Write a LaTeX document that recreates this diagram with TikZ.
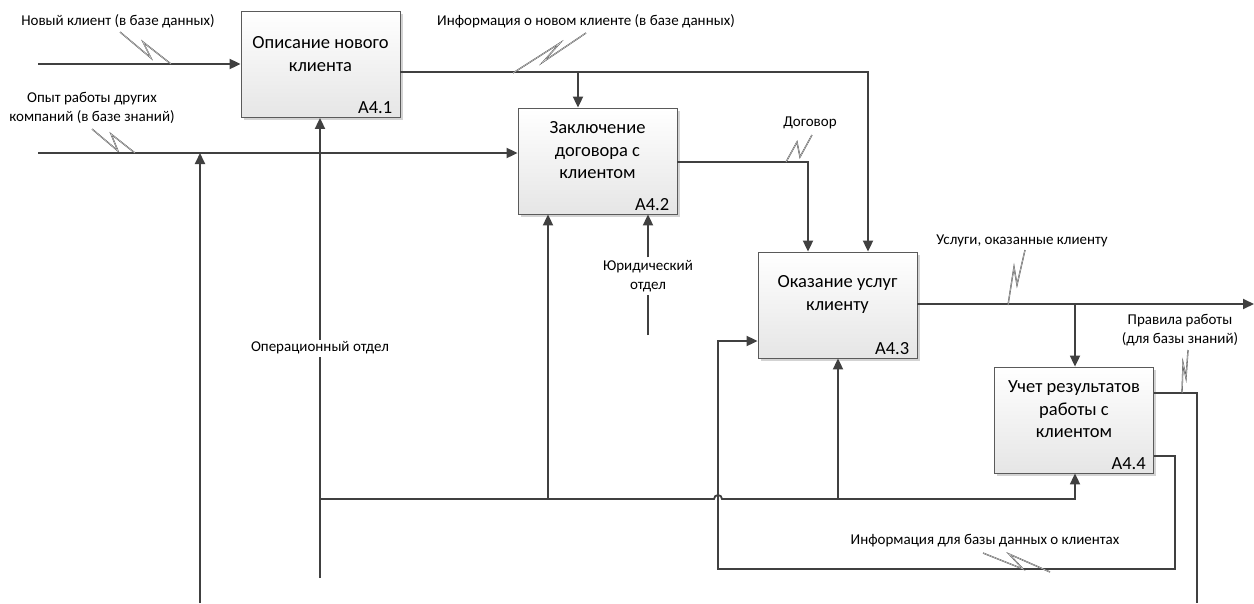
\documentclass[tikz,border=0pt]{standalone}
\usepackage{fontspec}
\setmainfont{Carlito}
\usetikzlibrary{arrows.meta,shadows,calc}
\definecolor{linegray}{HTML}{404040}
\definecolor{boxedge}{HTML}{5A5A5A}
\begin{document}
\begin{tikzpicture}[x=1pt,y=-1pt,
  wire/.style={line width=1.8pt, draw=linegray},
  arr/.style={wire, -{Triangle[length=11pt,width=10pt]}},
  squig/.style={line width=0.4pt, draw=black!70, double=black!20, double distance=0.5pt, line join=miter},
  func/.style={draw=boxedge, line width=0.8pt, top color=white, bottom color=black!10,
    minimum width=159pt, minimum height=106pt, inner sep=0pt,
    drop shadow={shadow xshift=2.5pt, shadow yshift=-2.5pt, opacity=0.35}},
  boxtext/.style={font=\fontsize{18.5}{22.5}\selectfont, align=center, inner sep=0pt},
  code/.style={font=\fontsize{18.5}{22}\selectfont, anchor=base east, inner sep=0pt},
  lbl/.style={font=\fontsize{15}{18.5}\selectfont, align=center, inner sep=2pt},
]
\useasboundingbox (0,0) rectangle (1254,603);

% activity boxes
\node[func] (b1) at (320.5,64.5) {};
\node[func] (b2) at (597.5,161) {};
\node[func] (b3) at (837.5,305) {};
\node[func] (b4) at (1074,420) {};

\node[boxtext] at ([yshift=10.5pt]b1.center) {Описание нового\\клиента};
\node[boxtext] at ([yshift=10.5pt]b2.center) {Заключение\\договора с\\клиентом};
\node[boxtext] at ([yshift=10.5pt]b3.center) {Оказание услуг\\клиенту};
\node[boxtext] at ([yshift=10.5pt]b4.center) {Учет результатов\\работы с\\клиентом};

\node[code] at ([xshift=-8pt,yshift=4pt]b1.south east) {A4.1};
\node[code] at ([xshift=-8pt,yshift=4pt]b2.south east) {A4.2};
\node[code] at ([xshift=-8pt,yshift=4pt]b3.south east) {A4.3};
\node[code] at ([xshift=-8pt,yshift=4pt]b4.south east) {A4.4};

% free ends and junction points
\coordinate (in1) at (38,64);
\coordinate (in2) at (38,153);
\coordinate (c1) at (868,72);
\coordinate (j1) at (578,72);
\coordinate (c2) at (808,162);
\coordinate (jur) at (648,335);
\coordinate (op) at (320,578);
\coordinate (m0) at (320,499);
\coordinate (k1) at (548,499);
\coordinate (k2) at (838,499);
\coordinate (k3) at (1075,499);
\coordinate (kb) at (200,603);
\coordinate (out3) at (1254,304);
\coordinate (j3) at (1075,304);
\coordinate (g1) at (1197,393);
\coordinate (out4) at (1197,603);
\coordinate (f1) at (1175,456);
\coordinate (f2) at (1175,569);
\coordinate (f3) at (718,569);
\coordinate (f4) at (718,341);

% labels
\node[lbl] (l1) at (118,21) {Новый клиент (в базе данных)};
\node[lbl] (l2) at (92,108) {Опыт работы других\\компаний (в базе знаний)};
\node[lbl] (l3) at (586,21) {Информация о новом клиенте (в базе данных)};
\node[lbl] (l4) at (810,123) {Договор};
\node[lbl, inner sep=3pt] (l5) at (648,276) {Юридический\\отдел};
\node[lbl] (l6) at (320,348) {Операционный отдел};
\node[lbl] (l7) at (1022,241) {Услуги, оказанные клиенту};
\node[lbl] (l8) at (1180,330) {Правила работы\\(для базы знаний)};
\node[lbl] (l9) at (985,541) {Информация для базы данных о клиентах};

% inputs
\draw[arr] (in1) -- (in1 -| b1.west);
\draw[arr] (in2) -- (in2 -| b2.west);
\draw[arr] (kb) -- (kb |- in2);

% output of A4.1
\draw[arr] (b1.east |- c1) -| (c1 |- b3.north);
\draw[arr] (j1) -- (j1 |- b2.north);

% output of A4.2
\draw[arr] (b2.east |- c2) -| (c2 |- b3.north);

% controls of A4.2
\draw[wire] (jur) -- (l5.south);
\draw[arr] (l5.north) -- (l5.north |- b2.south);

% mechanism: operations department
\draw[wire] (op) -- (l6.south);
\draw[arr] (l6.north) -- (l6.north |- b1.south);
\draw[arr] (m0) -- (714,499) arc (180:360:4) -- (k3) -- (k3 |- b4.south);
\draw[arr] (k1) -- (k1 |- b2.south);
\draw[arr] (k2) -- (k2 |- b3.south);

% output of A4.3
\draw[arr] (b3.east |- out3) -- (out3);
\draw[arr] (j3) -- (j3 |- b4.north);

% outputs of A4.4
\draw[wire] (b4.east |- g1) -- (g1) -- (out4);
\draw[arr] (b4.east |- f1) -- (f1) -- (f2) -- (f3) -- (f4) -- (f4 -| b3.west);

% label squiggles
\draw[squig] (120,32) -- (151,58) -- (143,42) -- (171,64);
\draw[squig] (92,129) -- (118,151) -- (111,134) -- (135,153);
\draw[squig] (513,73) -- (560,43) -- (543,62) -- (586,33);
\draw[squig] (786,162) -- (797,142) -- (800,157) -- (812,135);
\draw[squig] (1008,305) -- (1014,267) -- (1017,285) -- (1025,250);
\draw[squig] (1182,393) -- (1183,363) -- (1186,378) -- (1188,350);
\draw[squig] (983,553) -- (1023,569) -- (1009,554) -- (1050,572);
\end{tikzpicture}
\end{document}
